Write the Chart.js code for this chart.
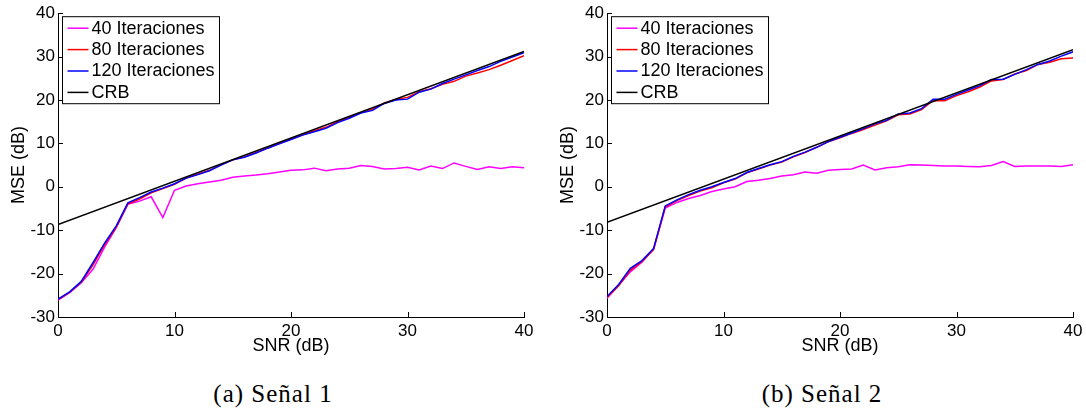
<!DOCTYPE html>
<html>
<head>
<meta charset="utf-8">
<title>MSE vs SNR</title>
<script src="https://cdn.jsdelivr.net/npm/chart.js@4.4.1/dist/chart.umd.min.js"></script>
<style>
  html, body { margin: 0; padding: 0; background: #fff; }
  #page { position: relative; width: 1086px; height: 419px; overflow: hidden; }
  canvas { position: absolute; top: 0; }
  #chartA { left: 0; }
  #chartB { left: 549px; }
  .caption {
    position: absolute; top: 380px; width: 300px; text-align: center;
    font-family: "Liberation Serif", "DejaVu Serif", serif; font-size: 25px;
    letter-spacing: 1px; color: #000;
  }
</style>
</head>
<body>
<div id="page">
  <canvas id="chartA" width="543" height="360"></canvas>
  <canvas id="chartB" width="543" height="360"></canvas>
  <div class="caption" style="left:123px">(a) Señal 1</div>
  <div class="caption" style="left:672px">(b) Señal 2</div>
</div>
<script>
// SNR axis (dB)
const snr = [0, 1, 2, 3, 4, 5, 6, 7, 8, 9, 10, 11, 12, 13, 14, 15, 16, 17, 18, 19, 20,
             21, 22, 23, 24, 25, 26, 27, 28, 29, 30, 31, 32, 33, 34, 35, 36, 37, 38, 39, 40];

const seriesLabels = ['40 Iteraciones', '80 Iteraciones', '120 Iteraciones', 'CRB'];
const seriesColors = ['#ff00ff', '#ff0000', '#0000ff', '#000000'];

// Señal 1 - MSE (dB)
const mse40a = [-26.1, -24.4, -22.1, -19.0, -13.9, -9.4, -4.0, -3.3, -2.3, -7.1, -0.8, 0.2, 0.7, 1.1, 1.5,
                2.2, 2.5, 2.7, 3.0, 3.4, 3.8, 3.9, 4.3, 3.7, 4.1, 4.3, 4.9, 4.7, 4.1, 4.2, 4.5, 3.9, 4.8,
                4.2, 5.5, 4.7, 4.0, 4.6, 4.2, 4.6, 4.4];
const mse80a = [-26.0, -24.3, -22.0, -18.0, -13.3, -9.3, -3.9, -2.8, -1.4, -0.4, 0.6, 2.0, 2.9, 3.8, 5.1,
                6.2, 6.9, 7.9, 8.9, 10.0, 11.0, 12.0, 12.9, 13.7, 15.0, 16.0, 17.1, 17.9, 19.3, 20.1, 20.6,
                21.9, 22.6, 23.6, 24.3, 25.5, 26.2, 27.0, 28.0, 29.1, 30.2];
const mse120a = [-25.9, -24.2, -21.8, -17.5, -13.0, -9.0, -3.7, -2.5, -1.2, -0.3, 0.7, 2.0, 2.8, 3.7, 5.0,
                 6.2, 6.8, 7.8, 8.9, 9.9, 10.9, 11.9, 12.7, 13.5, 14.8, 15.8, 17.0, 17.6, 19.2, 20.0, 20.2,
                 21.8, 22.5, 23.8, 24.8, 25.8, 26.8, 27.7, 28.9, 29.9, 30.9];
const crbSnrA = [0, 40];
const crbA = [-8.7, 31.2];

// Señal 2 - MSE (dB)
const mse40b = [-25.7, -22.7, -19.6, -17.4, -14.3, -4.9, -3.6, -2.7, -2.0, -1.1, -0.5, 0.0, 1.2, 1.5, 1.9,
                2.5, 2.8, 3.4, 3.1, 3.8, 4.0, 4.1, 5.0, 3.9, 4.4, 4.6, 5.1, 5.0, 4.9, 4.8, 4.8, 4.7, 4.6,
                4.9, 5.8, 4.7, 4.8, 4.8, 4.8, 4.7, 5.1];
const mse80b = [-25.5, -22.8, -19.2, -17.2, -14.5, -4.6, -3.2, -2.0, -1.0, -0.2, 0.9, 1.8, 3.2, 4.1, 5.0,
                5.7, 6.9, 7.9, 9.1, 10.4, 11.3, 12.3, 13.2, 14.2, 15.2, 16.6, 16.8, 17.8, 19.9, 19.8, 21.0,
                21.9, 23.0, 24.4, 24.7, 26.0, 26.8, 28.2, 28.7, 29.5, 29.7];
const mse120b = [-25.3, -22.5, -18.8, -17.0, -14.2, -4.4, -3.0, -1.8, -0.8, 0.0, 1.0, 1.9, 3.3, 4.2, 5.1,
                 5.8, 7.0, 8.0, 9.1, 10.4, 11.4, 12.4, 13.4, 14.5, 15.3, 16.8, 17.0, 18.0, 20.2, 20.2, 21.3,
                 22.3, 23.3, 24.7, 24.8, 25.9, 27.0, 28.2, 29.0, 30.1, 31.1];
const crbSnrB = [0, 40];
const crbB = [-8.2, 31.6];

const xTicks = [0, 10, 20, 30, 40];
const yTicks = [-30, -20, -10, 0, 10, 20, 30, 40];

Chart.defaults.font.family = '"Liberation Sans", Arial, sans-serif';
Chart.defaults.color = '#000';

function toPoints(xs, ys) {
    return ys.map((y, i) => ({ x: xs[i], y: y }));
}

/**
 * Short tick marks pointing into the plot area (MATLAB style)
 */
const inwardTicks = {
    id: 'inwardTicks',
    afterDraw(chart) {
        const { ctx, chartArea, scales } = chart;
        ctx.save();
        ctx.strokeStyle = '#000';
        ctx.lineWidth = 1;
        ctx.beginPath();
        xTicks.forEach(v => {
            const px = Math.round(scales.x.getPixelForValue(v)) + 0.5;
            ctx.moveTo(px, chartArea.bottom);
            ctx.lineTo(px, chartArea.bottom - 5);
        });
        yTicks.forEach(v => {
            const py = Math.round(scales.y.getPixelForValue(v)) + 0.5;
            ctx.moveTo(chartArea.left, py);
            ctx.lineTo(chartArea.left + 5, py);
        });
        ctx.stroke();
        ctx.restore();
    }
};

/**
 * Boxed legend in the upper-left corner of the plot
 */
const boxLegend = {
    id: 'boxLegend',
    afterDraw(chart) {
        const { ctx, chartArea } = chart;
        const x0 = chartArea.left + 4.5;
        const y0 = chartArea.top + 3.5;
        const w = 157, h = 87;
        ctx.save();
        ctx.fillStyle = '#fff';
        ctx.fillRect(x0, y0, w, h);
        ctx.strokeStyle = '#000';
        ctx.lineWidth = 1;
        ctx.strokeRect(x0, y0, w, h);
        ctx.font = '18px "Liberation Sans", Arial, sans-serif';
        ctx.textBaseline = 'middle';
        ctx.fillStyle = '#000';
        chart.data.datasets.forEach((ds, i) => {
            const cy = y0 + 11.5 + i * 21.4;
            ctx.strokeStyle = ds.borderColor;
            ctx.lineWidth = 1.5;
            ctx.beginPath();
            ctx.moveTo(x0 + 5, cy);
            ctx.lineTo(x0 + 26, cy);
            ctx.stroke();
            ctx.fillText(ds.label, x0 + 29, cy + 0.5);
        });
        ctx.restore();
    }
};

function makeChart(canvasId, s40, s80, s120, crbX, crbY) {
    const series = [toPoints(snr, s40), toPoints(snr, s80), toPoints(snr, s120), toPoints(crbX, crbY)];
    // later series are drawn on top (CRB uppermost)
    const drawOrder = [4, 3, 2, 1];
    const datasets = series.map((data, i) => ({
        label: seriesLabels[i],
        data: data,
        borderColor: seriesColors[i],
        backgroundColor: seriesColors[i],
        borderWidth: 1.5,
        pointRadius: 0,
        tension: 0,
        fill: false,
        order: drawOrder[i]
    }));

    return new Chart(document.getElementById(canvasId), {
        type: 'line',
        data: { datasets },
        options: {
            responsive: false,
            animation: false,
            layout: { padding: { top: 10, right: 19, left: 0, bottom: 0 } },
            plugins: {
                legend: { display: false },
                tooltip: { enabled: false }
            },
            scales: {
                x: {
                    type: 'linear',
                    min: 0,
                    max: 40,
                    afterFit: scale => { scale.height = 43; },
                    afterBuildTicks: scale => { scale.ticks = xTicks.map(v => ({ value: v })); },
                    grid: { drawOnChartArea: false, drawTicks: false },
                    border: { color: '#000', width: 1 },
                    ticks: { padding: 4, maxRotation: 0, font: { size: 17 } },
                    title: {
                        display: true,
                        text: 'SNR (dB)',
                        font: { size: 18 },
                        padding: { top: 0, bottom: 3 }
                    }
                },
                y: {
                    type: 'linear',
                    min: -30,
                    max: 40,
                    afterFit: scale => { scale.width = 58; },
                    afterBuildTicks: scale => { scale.ticks = yTicks.map(v => ({ value: v })); },
                    grid: { drawOnChartArea: false, drawTicks: false },
                    border: { color: '#000', width: 1 },
                    ticks: { padding: 3, font: { size: 17 } },
                    title: {
                        display: true,
                        text: 'MSE (dB)',
                        font: { size: 18 },
                        padding: { top: 8, bottom: 0 }
                    }
                }
            }
        },
        plugins: [inwardTicks, boxLegend]
    });
}

makeChart('chartA', mse40a, mse80a, mse120a, crbSnrA, crbA);
makeChart('chartB', mse40b, mse80b, mse120b, crbSnrB, crbB);
</script>
</body>
</html>
